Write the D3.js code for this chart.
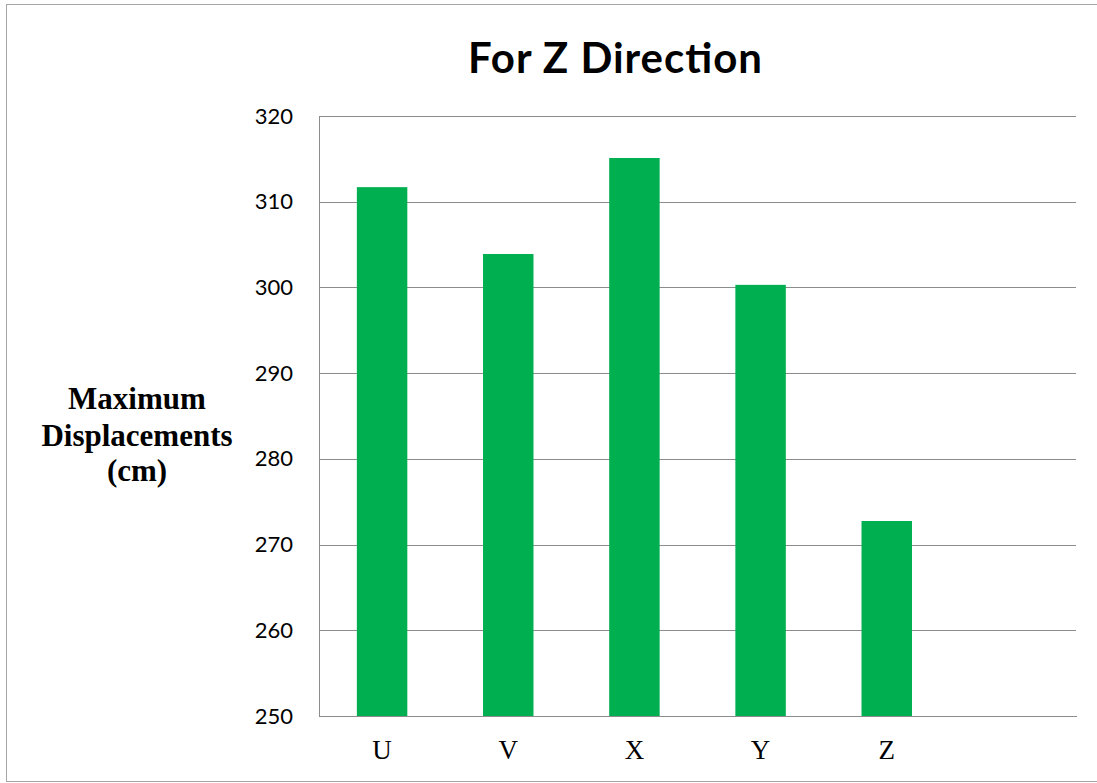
<!DOCTYPE html>
<html>
<head>
<meta charset="utf-8">
<script src="https://cdn.jsdelivr.net/npm/d3@7"></script>
<style>
  html, body { margin: 0; padding: 0; background: #fff; }
  svg { display: block; }
</style>
</head>
<body>
<svg id="chart" width="1097" height="783"></svg>
<script>
// Maximum displacement per model, Z direction
const categories = ["U", "V", "X", "Y", "Z"];
const values = [311.7, 303.9, 315.1, 300.3, 272.75];
const yTicks = [250, 260, 270, 280, 290, 300, 310, 320];
const titleText = "For Z Direction";
const yLabelLines = ["Maximum", "Displacements", "(cm)"];

const W = 1097, H = 783;
const margin = { left: 319, right: 21, top: 116, bottom: 67 };
const plotW = W - margin.left - margin.right;
const plotH = H - margin.top - margin.bottom;

const svg = d3.select("#chart");

// outer chart frame
svg.append("rect")
  .attr("x", 6.5).attr("y", 4.5)
  .attr("width", W - 6).attr("height", 777)
  .attr("fill", "#fff").attr("stroke", "#a6a6a6").attr("stroke-width", 1);

// six slots on the category axis, the last one left empty
const slots = categories.concat(["\u00a0"]);
const x = d3.scaleBand()
  .domain(slots)
  .range([0, plotW])
  .paddingInner(0.6)
  .paddingOuter(0.3);

const y = d3.scaleLinear()
  .domain([250, 320])
  .range([plotH, 0]);

const g = svg.append("g").attr("transform", `translate(${margin.left},${margin.top})`);

// horizontal gridlines + value labels
const yAxis = d3.axisLeft(y)
  .tickValues(yTicks)
  .tickSize(-plotW)
  .tickPadding(26)
  .tickFormat(d3.format("d"));

const yg = g.append("g").call(yAxis);
yg.select(".domain").remove();
yg.selectAll(".tick line").attr("stroke", "#8c8c8c").attr("stroke-width", 1)
  .attr("shape-rendering", "crispEdges");
yg.selectAll(".tick text")
  .attr("font-family", "Lato, 'Open Sans', sans-serif")
  .attr("font-size", 22)
  .attr("fill", "#000");

// left axis line
g.append("line")
  .attr("x1", 0).attr("x2", 0).attr("y1", 0).attr("y2", plotH)
  .attr("stroke", "#8c8c8c").attr("shape-rendering", "crispEdges");

// bars
g.selectAll("rect.bar")
  .data(values)
  .join("rect")
  .attr("class", "bar")
  .attr("x", (d, i) => x(categories[i]))
  .attr("width", x.bandwidth())
  .attr("y", d => y(d))
  .attr("height", d => plotH - y(d))
  .attr("fill", "#00b050");

// category axis
const xAxis = d3.axisBottom(x).tickSize(0);
const xg = g.append("g").attr("transform", `translate(0,${plotH})`).call(xAxis);
xg.select(".domain").attr("stroke", "#8c8c8c").attr("shape-rendering", "crispEdges");
xg.selectAll(".tick text")
  .attr("y", 43)
  .attr("dy", 0)
  .attr("font-family", "'Liberation Serif', 'Times New Roman', serif")
  .attr("font-size", 27)
  .attr("fill", "#000");

// title
svg.append("text")
  .attr("x", 615).attr("y", 73)
  .attr("text-anchor", "middle")
  .attr("font-family", "Lato, 'Open Sans', sans-serif")
  .attr("font-weight", "bold")
  .attr("font-size", 42)
  .attr("textLength", 294)
  .attr("lengthAdjust", "spacing")
  .attr("fill", "#000")
  .text(titleText);

// y axis title, three centred lines
svg.append("text")
  .attr("text-anchor", "middle")
  .attr("font-family", "'Liberation Serif', 'Times New Roman', serif")
  .attr("font-weight", "bold")
  .attr("font-size", 31)
  .attr("fill", "#000")
  .selectAll("tspan")
  .data(yLabelLines)
  .join("tspan")
  .attr("x", 137)
  .attr("y", (d, i) => [409, 446, 481][i])
  .text(d => d);
</script>
</body>
</html>
